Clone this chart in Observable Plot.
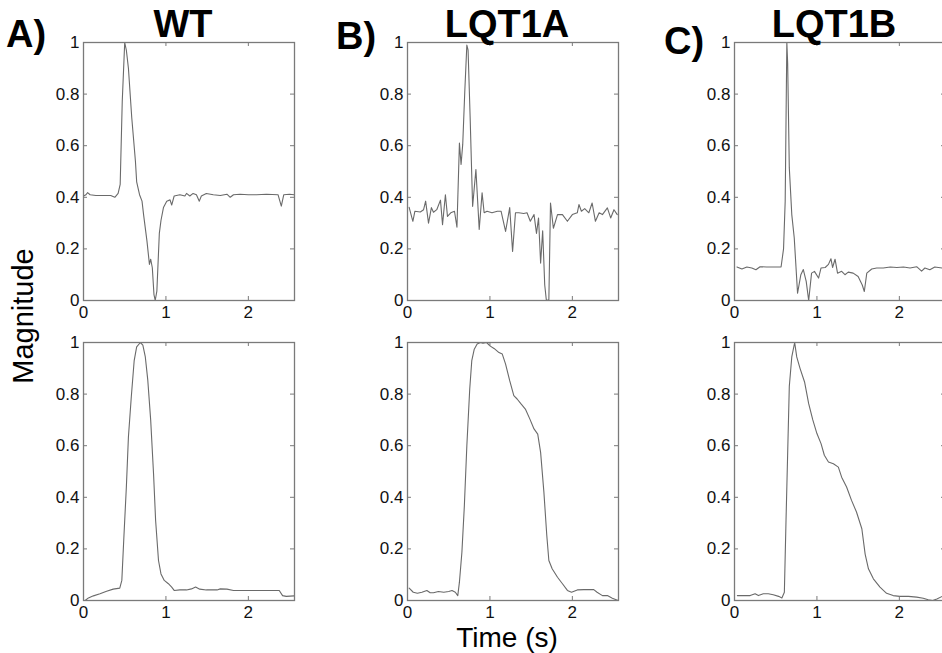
<!DOCTYPE html>
<html>
<head>
<meta charset="utf-8">
<script src="https://cdn.jsdelivr.net/npm/d3@7"></script>
<script src="https://cdn.jsdelivr.net/npm/@observablehq/plot@0.6"></script>
<style>
  html, body { margin: 0; padding: 0; background: #fff; overflow: hidden; }
  #fig { position: relative; width: 942px; height: 653px; overflow: hidden; font-family: "Liberation Sans", Arial, sans-serif; }
  #fig > .panel { position: absolute; }
  #labels { position: absolute; left: 0; top: 0; }
</style>
</head>
<body>
<div id="fig"></div>
<script>
// ---------- data ----------
const panelTitles = ["WT", "LQT1A", "LQT1B"];
const panelLetters = ["A)", "B)", "C)"];
const xTicks = [0, 1, 2];
const xTickLabels = ["0", "1", "2"];
const yTicks = [0, 0.2, 0.4, 0.6, 0.8, 1];
const yTickLabels = ["0", "0.2", "0.4", "0.6", "0.8", "1"];
const xLabel = "Time (s)";
const yLabel = "Magnitude";

// WT, top
const wtTopT = [0.0,0.03,0.05,0.08,0.15,0.25,0.33,0.38,0.42,0.445,0.47,0.50,0.52,0.545,0.585,0.63,0.645,0.68,0.71,0.73,0.77,0.80,0.815,0.835,0.855,0.87,0.89,0.92,0.94,0.97,1.01,1.05,1.07,1.10,1.17,1.23,1.25,1.29,1.33,1.37,1.405,1.43,1.49,1.575,1.66,1.74,1.78,1.82,1.90,2.0,2.1,2.22,2.36,2.40,2.43,2.50,2.555];
const wtTopV = [0.405,0.41,0.418,0.41,0.407,0.407,0.407,0.40,0.415,0.45,0.77,1.0,0.97,0.90,0.71,0.54,0.46,0.41,0.385,0.33,0.23,0.14,0.16,0.127,0.023,0.0,0.036,0.26,0.31,0.36,0.385,0.39,0.37,0.405,0.41,0.405,0.415,0.405,0.415,0.41,0.385,0.405,0.415,0.41,0.407,0.412,0.40,0.41,0.412,0.41,0.41,0.412,0.41,0.366,0.41,0.412,0.41];

// LQT1A, top
const aTopT = [0.02,0.065,0.09,0.155,0.195,0.22,0.255,0.29,0.315,0.355,0.40,0.425,0.46,0.485,0.525,0.57,0.60,0.63,0.65,0.67,0.695,0.72,0.735,0.76,0.79,0.83,0.87,0.905,0.93,0.965,1.025,1.09,1.135,1.19,1.24,1.275,1.31,1.35,1.41,1.45,1.49,1.535,1.565,1.59,1.615,1.64,1.665,1.685,1.715,1.735,1.77,1.82,1.88,1.94,2.0,2.06,2.08,2.11,2.15,2.20,2.24,2.28,2.325,2.365,2.425,2.465,2.505,2.545];
const aTopV = [0.361,0.307,0.346,0.343,0.352,0.385,0.30,0.36,0.342,0.352,0.389,0.294,0.41,0.326,0.34,0.346,0.284,0.61,0.527,0.605,0.81,0.99,0.97,0.71,0.365,0.508,0.275,0.417,0.34,0.346,0.34,0.346,0.346,0.268,0.36,0.19,0.34,0.34,0.337,0.34,0.307,0.333,0.26,0.32,0.145,0.27,0.06,0.0,0.003,0.378,0.28,0.333,0.333,0.307,0.333,0.34,0.372,0.346,0.356,0.34,0.378,0.307,0.34,0.333,0.359,0.32,0.352,0.333];

// LQT1B, top
const bTopT = [0.03,0.09,0.15,0.21,0.26,0.31,0.39,0.51,0.565,0.595,0.615,0.635,0.645,0.665,0.695,0.725,0.765,0.805,0.835,0.87,0.90,0.935,0.97,1.02,1.05,1.10,1.14,1.17,1.19,1.22,1.25,1.30,1.34,1.38,1.44,1.50,1.55,1.575,1.605,1.665,1.725,1.805,1.89,1.97,2.05,2.13,2.21,2.27,2.31,2.37,2.43,2.52,2.555];
const bTopV = [0.13,0.122,0.13,0.126,0.119,0.131,0.13,0.13,0.13,0.2,0.385,1.0,0.92,0.514,0.333,0.242,0.028,0.10,0.12,0.074,0.0,0.106,0.113,0.087,0.126,0.128,0.14,0.162,0.128,0.16,0.106,0.113,0.10,0.11,0.106,0.093,0.06,0.035,0.106,0.122,0.126,0.126,0.13,0.128,0.13,0.126,0.131,0.114,0.126,0.119,0.13,0.126,0.126];

// WT, bottom
const wtBotT = [0.02,0.06,0.12,0.2,0.28,0.36,0.44,0.465,0.49,0.52,0.545,0.58,0.615,0.645,0.69,0.72,0.75,0.78,0.815,0.85,0.875,0.91,0.94,0.98,1.03,1.07,1.10,1.17,1.25,1.31,1.36,1.41,1.49,1.62,1.66,1.74,1.82,2.02,2.22,2.375,2.415,2.46,2.555];
const wtBotV = [0.0,0.01,0.018,0.026,0.036,0.044,0.048,0.078,0.246,0.44,0.634,0.79,0.93,0.983,1.0,0.99,0.944,0.854,0.70,0.49,0.31,0.155,0.103,0.078,0.065,0.052,0.039,0.041,0.041,0.045,0.052,0.044,0.041,0.041,0.045,0.044,0.039,0.039,0.039,0.039,0.019,0.016,0.018];

// LQT1A, bottom
const aBotT = [0.02,0.07,0.12,0.175,0.235,0.275,0.315,0.375,0.44,0.5,0.54,0.58,0.61,0.63,0.66,0.69,0.72,0.755,0.78,0.81,0.845,0.885,0.915,0.96,1.0,1.05,1.11,1.15,1.19,1.24,1.29,1.33,1.38,1.43,1.485,1.535,1.58,1.615,1.655,1.69,1.715,1.755,1.82,1.88,1.94,1.99,2.06,2.14,2.20,2.26,2.30,2.365,2.425,2.485,2.555];
const aBotV = [0.048,0.032,0.028,0.032,0.039,0.03,0.03,0.035,0.032,0.035,0.039,0.032,0.019,0.071,0.187,0.368,0.60,0.82,0.93,0.974,0.994,1.0,0.997,1.0,0.987,0.977,0.961,0.955,0.916,0.852,0.794,0.781,0.761,0.742,0.703,0.665,0.645,0.574,0.419,0.252,0.155,0.123,0.09,0.065,0.039,0.032,0.041,0.042,0.042,0.042,0.032,0.019,0.019,0.009,0.0];

// LQT1B, bottom
const bBotT = [0.035,0.11,0.19,0.25,0.29,0.35,0.41,0.47,0.535,0.575,0.605,0.625,0.645,0.665,0.695,0.73,0.755,0.795,0.85,0.90,0.95,1.0,1.05,1.09,1.14,1.20,1.26,1.30,1.36,1.42,1.48,1.545,1.585,1.625,1.685,1.765,1.845,1.925,2.005,2.11,2.21,2.29,2.35,2.405,2.455,2.52,2.555];
const bBotV = [0.019,0.019,0.019,0.026,0.019,0.026,0.026,0.022,0.016,0.01,0.032,0.31,0.57,0.83,0.944,1.0,0.944,0.90,0.847,0.763,0.70,0.647,0.608,0.563,0.537,0.53,0.517,0.478,0.44,0.388,0.343,0.278,0.18,0.123,0.084,0.052,0.028,0.019,0.016,0.016,0.013,0.009,0.003,0.0,0.006,0.016,0.018];

const seriesT = [[wtTopT, aTopT, bTopT], [wtBotT, aBotT, bBotT]];
const seriesV = [[wtTopV, aTopV, bTopV], [wtBotV, aBotV, bBotV]];

// ---------- layout ----------
const panelLefts = [83, 407, 734];
const panelTops = [42, 342];
const PW = 211, PH = 258;
const mL = 45, mR = 12, mT = 10, mB = 30;
const lineColor = "#6a6a6a";
const frameColor = "#7a7a7a";
const font = '"Liberation Sans", Arial, sans-serif';

const fig = document.getElementById("fig");

for (let r = 0; r < 2; r++) {
  for (let c = 0; c < 3; c++) {
    const T = seriesT[r][c], V = seriesV[r][c];
    const plot = Plot.plot({
      width: PW + mL + mR,
      height: PH + mT + mB,
      marginLeft: mL, marginRight: mR, marginTop: mT, marginBottom: mB,
      style: {fontFamily: font, background: "transparent", color: "#111"},
      x: {domain: [0, 2.56], axis: null},
      y: {domain: [0, 1], axis: null},
      marks: [
        Plot.line(T, {x: T, y: V, stroke: lineColor, strokeWidth: 1.1}),
        Plot.frame({stroke: frameColor, strokeWidth: 1.3}),
        // inward ticks on all four sides
        Plot.ruleX(xTicks, {x: d => d, insetTop: PH - 4, stroke: frameColor}),
        Plot.ruleX(xTicks, {x: d => d, insetBottom: PH - 4, stroke: frameColor}),
        Plot.ruleY(yTicks, {y: d => d, insetRight: PW - 4, stroke: frameColor}),
        Plot.ruleY(yTicks, {y: d => d, insetLeft: PW - 4, stroke: frameColor}),
        Plot.axisX({ticks: xTicks, tickSize: 0, tickPadding: 5, fontSize: 17, tickFormat: (d, i) => xTickLabels[i], anchor: "bottom", label: null}),
        Plot.axisY({ticks: yTicks, tickSize: 0, tickPadding: 4, fontSize: 17, tickFormat: (d, i) => yTickLabels[i], anchor: "left", label: null})
      ]
    });
    plot.classList.add("panel");
    plot.style.left = (panelLefts[c] - mL) + "px";
    plot.style.top = (panelTops[r] - mT) + "px";
    fig.appendChild(plot);
  }
}

// ---------- titles and axis labels ----------
const ns = "http://www.w3.org/2000/svg";
const svg = document.createElementNS(ns, "svg");
svg.setAttribute("id", "labels");
svg.setAttribute("width", 942);
svg.setAttribute("height", 653);
function addText(str, x, y, size, weight, anchor, rotate) {
  const t = document.createElementNS(ns, "text");
  t.textContent = str;
  t.setAttribute("x", x);
  t.setAttribute("y", y);
  t.setAttribute("font-size", size);
  t.setAttribute("font-weight", weight);
  t.setAttribute("font-family", font);
  t.setAttribute("text-anchor", anchor);
  t.setAttribute("fill", "#000");
  if (rotate) t.setAttribute("transform", `rotate(${rotate} ${x} ${y})`);
  svg.appendChild(t);
}
const titleX = [183, 507, 834];
const letterX = [6, 336, 664];
const letterY = [47, 49, 54];
for (let c = 0; c < 3; c++) {
  addText(panelTitles[c], titleX[c], 37, 38, "bold", "middle");
  addText(panelLetters[c], letterX[c], letterY[c], 38, "bold", "start");
}
addText(yLabel, 33, 316, 29, "normal", "middle", -90);
addText(xLabel, 507, 647, 28, "normal", "middle");
fig.appendChild(svg);
</script>
</body>
</html>
